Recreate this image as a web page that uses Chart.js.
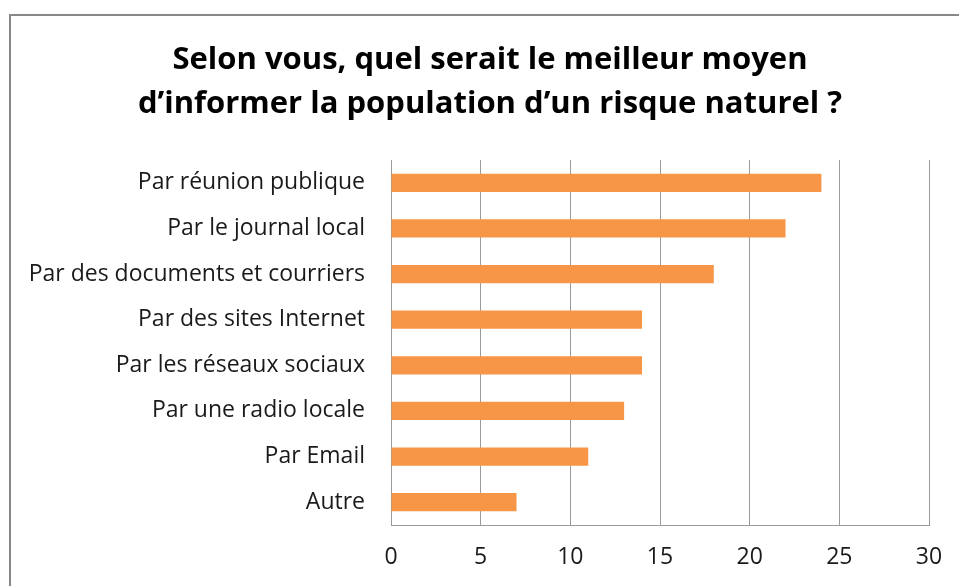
<!DOCTYPE html>
<html>
<head>
<meta charset="utf-8">
<script src="https://cdn.jsdelivr.net/npm/chart.js@4"></script>
<style>
  html, body { margin: 0; padding: 0; background: #fff; overflow: hidden; }
  #wrap { position: relative; width: 959px; height: 586px; }
</style>
</head>
<body>
<div id="wrap"><canvas id="chart" width="959" height="586"></canvas></div>
<script>
// survey answers, top to bottom
const categories = [
  "Par réunion publique",
  "Par le journal local",
  "Par des documents et courriers",
  "Par des sites Internet",
  "Par les réseaux sociaux",
  "Par une radio locale",
  "Par Email",
  "Autre"
];
const answers = [24, 22, 18, 14, 14, 13, 11, 7];
const titleLines = [
  "Selon vous, quel serait le meilleur moyen",
  "d\u2019informer la population d\u2019un risque naturel ?"
];

const FONT = "'Open Sans', 'Noto Sans', sans-serif";
const GRID = "#9a9a9a";
const TEXT = "#1a1a1a";

// grey frame around the chart (open on the right and bottom)
const framePlugin = {
  id: "frame",
  beforeDraw(chart) {
    const ctx = chart.ctx;
    ctx.save();
    ctx.strokeStyle = "#888888";
    ctx.lineWidth = 2;
    ctx.beginPath();
    ctx.moveTo(10, chart.height + 5);
    ctx.lineTo(10, 15);
    ctx.lineTo(chart.width + 5, 15);
    ctx.stroke();
    ctx.restore();
  }
};

// centre the title over the frame rather than the whole canvas
const titleShift = {
  id: "titleShift",
  afterLayout(chart) {
    chart.titleBlock.left = 51;
    chart.titleBlock.right = 929;
  }
};

new Chart(document.getElementById("chart"), {
  type: "bar",
  data: {
    labels: categories,
    datasets: [{
      data: answers,
      backgroundColor: "#F79646",
      borderWidth: 0,
      categoryPercentage: 1,
      barPercentage: 0.4
    }]
  },
  options: {
    indexAxis: "y",
    responsive: false,
    animation: false,
    layout: { padding: { left: 0, right: 30, top: 0, bottom: 0 } },
    plugins: {
      legend: { display: false },
      tooltip: { enabled: false },
      title: {
        display: true,
        text: titleLines,
        color: "#000",
        font: { family: FONT, size: 31, weight: "bold", lineHeight: 1.42 },
        padding: { top: 38, bottom: 34 }
      }
    },
    scales: {
      x: {
        min: 0,
        max: 30,
        ticks: {
          stepSize: 5,
          color: TEXT,
          padding: 19,
          font: { family: FONT, size: 23 }
        },
        grid: { color: GRID, lineWidth: 1, drawTicks: false },
        border: { color: GRID, width: 1 },
        afterFit(scale) {
          scale.height = 61;
          scale.paddingLeft = 0;
          scale.paddingRight = 0;
        }
      },
      y: {
        ticks: {
          color: TEXT,
          padding: 26,
          font: { family: FONT, size: 23 }
        },
        grid: { display: false, drawTicks: false },
        border: { color: GRID, width: 1 },
        afterFit(scale) { scale.width = 391; }
      }
    }
  },
  plugins: [framePlugin, titleShift]
});
</script>
</body>
</html>
